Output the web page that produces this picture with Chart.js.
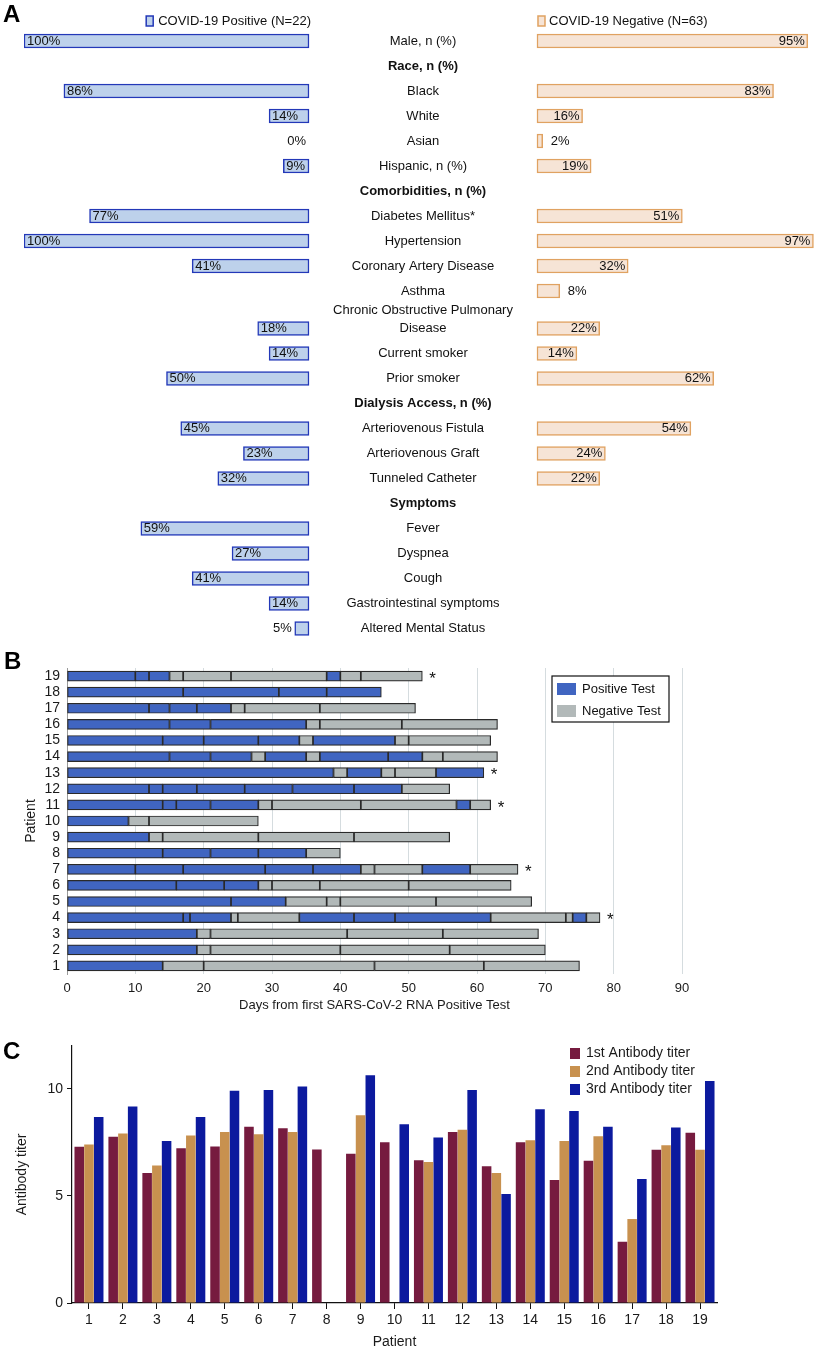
<!DOCTYPE html>
<html lang="en">
<head>
<meta charset="UTF-8">
<title>COVID-19 in hemodialysis patients</title>
<script src="https://cdn.jsdelivr.net/npm/chart.js"></script>
<style>
  body { margin: 0; background: #fff; }
  #wrap { position: relative; width: 814px; height: 1352px; }
  canvas { position: absolute; left: 0; }
  .tag { position: absolute; font: bold 24px "Liberation Sans", Arial, sans-serif; line-height: 24px; color: #000; }
</style>
</head>
<body>
<div id="wrap">
  <canvas id="chartA" width="814" height="645" style="top:0"></canvas>
  <canvas id="chartB" width="814" height="370" style="top:645px"></canvas>
  <canvas id="chartC" width="814" height="337" style="top:1015px"></canvas>
  <div class="tag" style="left:3px;top:2px">A</div>
  <div class="tag" style="left:4px;top:649px">B</div>
  <div class="tag" style="left:3px;top:1039px">C</div>
</div>
<script>
const FONT = '"Liberation Sans", Arial, sans-serif';
Chart.defaults.font.family = FONT;
Chart.defaults.color = '#1a1a1a';
Chart.defaults.animation = false;

// ---------- panel A data ----------
const rowLabels = ['Male, n (%)', 'Race, n (%)', 'Black', 'White', 'Asian', 'Hispanic, n (%)',
  'Comorbidities, n (%)', 'Diabetes Mellitus*', 'Hypertension', 'Coronary Artery Disease', 'Asthma',
  ['Chronic Obstructive Pulmonary', 'Disease'], 'Current smoker', 'Prior smoker',
  'Dialysis Access, n (%)', 'Arteriovenous Fistula', 'Arteriovenous Graft', 'Tunneled Catheter',
  'Symptoms', 'Fever', 'Dyspnea', 'Cough', 'Gastrointestinal symptoms', 'Altered Mental Status'];
const headerRows = ['Race, n (%)', 'Comorbidities, n (%)', 'Dialysis Access, n (%)', 'Symptoms'];
const positivePct = [100, null, 86, 14, 0, 9, null, 77, 100, 41, null, 18, 14, 50, null, 45, 23, 32, null, 59, 27, 41, 14, 5];
const negativePct = [95, null, 83, 16, 2, 19, null, 51, 97, 32, 8, 22, 14, 62, null, 54, 24, 22, null, null, null, null, null, null];

// ---------- panel B data (day each test segment ends, P = positive, N = negative) ----------
const patientIds = ['1','2','3','4','5','6','7','8','9','10','11','12','13','14','15','16','17','18','19'];
const testEnds = [
  [14, 20, 45, 61, 75],
  [19, 21, 40, 56, 70],
  [19, 21, 41, 55, 69],
  [17, 18, 24, 25, 34, 42, 48, 62, 73, 74, 76, 78],
  [24, 32, 38, 40, 54, 68],
  [16, 23, 28, 30, 37, 50, 65],
  [10, 17, 29, 36, 43, 45, 52, 59, 66],
  [14, 21, 28, 35, 40],
  [12, 14, 28, 42, 56],
  [9, 12, 28],
  [14, 16, 21, 28, 30, 43, 57, 59, 62],
  [12, 14, 19, 26, 33, 42, 49, 56],
  [39, 41, 46, 48, 54, 61],
  [15, 21, 27, 29, 35, 37, 47, 52, 55, 63],
  [14, 20, 28, 34, 36, 48, 50, 62],
  [15, 21, 35, 37, 49, 63],
  [12, 15, 19, 24, 26, 37, 51],
  [17, 31, 38, 46],
  [10, 12, 15, 17, 24, 38, 40, 43, 52]
];
const testResults = ['PNNNN', 'PNNNN', 'PNNNN', 'PPPNNPPPNNPN', 'PPNNNN', 'PPPNNNN', 'PPPPPNNPN',
  'PPPPN', 'PNNNN', 'PNN', 'PPPPNNNPN', 'PPPPPPPN', 'PNPNNP', 'PPPNPNPPNN', 'PPPPNPNN',
  'PPPNNN', 'PPPPNNN', 'PPPP', 'PPPNNNPNN'];
const starredPatients = ['4', '7', '11', '13', '19'];

// ---------- panel C data ----------
const titer1 = [7.29, 7.76, 6.07, 7.23, 7.31, 8.23, 8.16, 7.17, 6.97, 7.51, 6.67, 7.99, 6.39, 7.51, 5.74, 6.64, 2.86, 7.15, 7.95];
const titer2 = [7.40, 7.92, 6.42, 7.82, 7.99, 7.88, 7.98, null, 8.77, null, 6.58, 8.09, 6.07, 7.60, 7.57, 7.79, 3.92, 7.36, 7.15];
const titer3 = [8.69, 9.18, 7.57, 8.69, 9.91, 9.94, 10.11, null, 10.64, 8.35, 7.73, 9.95, 5.09, 9.05, 8.96, 8.23, 5.79, 8.20, 10.36];

// ================= A =================
const GAP = 40; // room left in the middle for the row labels (in % units)
const posFill = '#bdd1eb', posLine = '#2338b8';
const negFill = '#f6e4d6', negLine = '#e0a261';

// a two-line label pushes the rows below it down by half a row
let shift = 0;
const rowPos = rowLabels.map((lab, i) => {
  if (Array.isArray(lab)) shift += 0.5;
  return i + shift;
});

const labelsA = {
  id: 'labelsA',
  afterDatasetsDraw(chart) {
    const { ctx, scales: { x, y } } = chart;
    ctx.save();
    ctx.textBaseline = 'middle';
    ctx.fillStyle = '#111';
    rowLabels.forEach((lab, i) => {
      const yc = y.getPixelForValue(rowPos[i]);
      ctx.font = (headerRows.includes(lab) ? 'bold ' : '') + '13px ' + FONT;
      ctx.textAlign = 'center';
      const lines = Array.isArray(lab) ? lab : [lab];
      lines.forEach((t, k) => ctx.fillText(t, x.getPixelForValue(0), yc - (lines.length - 1 - k) * 18));

      ctx.font = '13px ' + FONT;
      const p = positivePct[i];
      if (p !== null) {
        const x0 = x.getPixelForValue(-GAP - p), x1 = x.getPixelForValue(-GAP);
        const w = ctx.measureText(p + '%').width;
        if (w + 6 <= x1 - x0) { ctx.textAlign = 'left'; ctx.fillText(p + '%', x0 + 3, yc); }
        else { ctx.textAlign = 'right'; ctx.fillText(p + '%', x0 - 3, yc); }
      }
      const n = negativePct[i];
      if (n !== null) {
        const x0 = x.getPixelForValue(GAP), x1 = x.getPixelForValue(GAP + n);
        const w = ctx.measureText(n + '%').width;
        if (w + 6 <= x1 - x0) { ctx.textAlign = 'right'; ctx.fillText(n + '%', x1 - 3, yc); }
        else { ctx.textAlign = 'left'; ctx.fillText(n + '%', x1 + 8, yc); }
      }
    });

    // legend above the two bar columns
    const ly = 21;
    ctx.font = '13px ' + FONT;
    const d = chart.data.datasets;
    const lx = x.getPixelForValue(-GAP) + 2;
    const lw = ctx.measureText(d[0].label).width;
    ctx.textAlign = 'right';
    ctx.fillText(d[0].label, lx, ly);
    ctx.lineWidth = 1.5;
    ctx.fillStyle = d[0].backgroundColor; ctx.strokeStyle = d[0].borderColor;
    ctx.fillRect(lx - lw - 12, ly - 5, 7, 10); ctx.strokeRect(lx - lw - 12, ly - 5, 7, 10);
    const rx = x.getPixelForValue(GAP) + 1;
    ctx.fillStyle = d[1].backgroundColor; ctx.strokeStyle = d[1].borderColor;
    ctx.fillRect(rx, ly - 5, 7, 10); ctx.strokeRect(rx, ly - 5, 7, 10);
    ctx.fillStyle = '#111';
    ctx.textAlign = 'left';
    ctx.fillText(d[1].label, rx + 11, ly);
    ctx.restore();
  }
};

new Chart(document.getElementById('chartA'), {
  type: 'bar',
  data: {
    datasets: [
      {
        label: 'COVID-19 Positive (N=22)',
        data: positivePct.map((v, i) => ({ x: [-GAP - v, -GAP], y: rowPos[i] })).filter((d, i) => positivePct[i]),
        backgroundColor: posFill, borderColor: posLine
      },
      {
        label: 'COVID-19 Negative (N=63)',
        data: negativePct.map((v, i) => ({ x: [GAP, GAP + v], y: rowPos[i] })).filter((d, i) => negativePct[i]),
        backgroundColor: negFill, borderColor: negLine
      }
    ]
  },
  options: {
    indexAxis: 'y',
    responsive: false,
    layout: { padding: { top: 28.5, bottom: 4, left: 24, right: 0 } },
    datasets: { bar: { grouped: false, barThickness: 14, borderWidth: 1.5, borderSkipped: false } },
    plugins: { legend: { display: false }, tooltip: { enabled: false } },
    scales: {
      x: { type: 'linear', min: -140, max: 137.2, display: false },
      y: { type: 'linear', reverse: true, offset: false, min: -0.5, max: rowPos[rowPos.length - 1] + 0.5, display: false }
    }
  },
  plugins: [labelsA]
});

// ================= B =================
const posBlue = '#4065c1', negGray = '#b2b9b9';
const maxSeg = Math.max(...testEnds.map(e => e.length));
const segSets = [];
for (let k = 0; k < maxSeg; k++) {
  segSets.push({
    data: testEnds.map(e => e[k] !== undefined ? [k ? e[k - 1] : 0, e[k]] : null),
    backgroundColor: testResults.map(r => r[k] === 'P' ? posBlue : negGray)
  });
}

const extrasB = {
  id: 'extrasB',
  afterDatasetsDraw(chart) {
    const { ctx, chartArea, scales: { x, y } } = chart;
    ctx.save();
    // asterisks after the last test
    ctx.fillStyle = '#111';
    ctx.font = '17px ' + FONT;
    ctx.textAlign = 'left';
    ctx.textBaseline = 'middle';
    starredPatients.forEach(p => {
      const i = patientIds.indexOf(p);
      const e = testEnds[i];
      ctx.fillText('*', x.getPixelForValue(e[e.length - 1]) + 7, y.getPixelForValue(i) + 3);
    });
    // legend box
    const bx = chartArea.right - 130, by = chartArea.top + 8;
    ctx.fillStyle = '#fff';
    ctx.fillRect(bx, by, 117, 46);
    ctx.strokeStyle = '#111';
    ctx.lineWidth = 1.2;
    ctx.strokeRect(bx, by, 117, 46);
    [['Positive Test', posBlue], ['Negative Test', negGray]].forEach(([t, c], j) => {
      ctx.fillStyle = c;
      ctx.fillRect(bx + 5, by + 7 + j * 22, 19, 12);
      ctx.fillStyle = '#111';
      ctx.font = '13px ' + FONT;
      ctx.fillText(t, bx + 30, by + 13 + j * 22);
    });
    ctx.restore();
  }
};

new Chart(document.getElementById('chartB'), {
  type: 'bar',
  data: { labels: patientIds, datasets: segSets },
  options: {
    indexAxis: 'y',
    responsive: false,
    layout: { padding: { top: 23, bottom: 0, left: 0, right: 132 } },
    datasets: { bar: { grouped: false, barThickness: 10, borderWidth: 1.2, borderColor: '#2a2a2a', borderSkipped: false } },
    plugins: { legend: { display: false }, tooltip: { enabled: false } },
    scales: {
      x: {
        type: 'linear', min: 0, max: 90,
        ticks: { stepSize: 10, padding: 7, font: { size: 13 }, color: '#1a1a1a' },
        grid: { color: '#d5dcdf', drawTicks: false },
        border: { display: false },
        title: { display: true, text: 'Days from first SARS-CoV-2 RNA Positive Test', font: { size: 13 }, color: '#1a1a1a', padding: { top: 0, bottom: 2 } },
        afterFit: s => { s.height = 41; }
      },
      y: {
        reverse: true,
        ticks: { autoSkip: false, padding: 7, font: { size: 14 }, color: '#1a1a1a' },
        grid: { display: false, drawTicks: false },
        border: { display: true, color: '#9a9a9a', width: 1 },
        title: { display: true, text: 'Patient', font: { size: 14 }, color: '#1a1a1a', padding: { top: 23, bottom: 0 } },
        afterFit: s => { s.width = 67; }
      }
    }
  },
  plugins: [extrasB]
});

// ================= C =================
const titerColors = ['#761b3f', '#c8914f', '#0c1a9e'];
const titerNames = ['1st Antibody titer', '2nd Antibody titer', '3rd Antibody titer'];

const legendC = {
  id: 'legendC',
  afterDraw(chart) {
    const { ctx, chartArea } = chart;
    ctx.save();
    ctx.font = '14px ' + FONT;
    ctx.textBaseline = 'middle';
    ctx.textAlign = 'left';
    titerNames.forEach((t, j) => {
      const yy = chartArea.top + 7 + j * 18;
      ctx.fillStyle = titerColors[j];
      ctx.fillRect(chartArea.right - 147, yy - 5, 10, 11);
      ctx.fillStyle = '#1a1a1a';
      ctx.fillText(t, chartArea.right - 131, yy);
    });
    ctx.restore();
  }
};

new Chart(document.getElementById('chartC'), {
  type: 'bar',
  data: {
    labels: patientIds,
    datasets: [
      { label: titerNames[0], data: titer1, backgroundColor: titerColors[0] },
      { label: titerNames[1], data: titer2, backgroundColor: titerColors[1] },
      { label: titerNames[2], data: titer3, backgroundColor: titerColors[2] }
    ]
  },
  options: {
    responsive: false,
    layout: { padding: { top: 31, bottom: 0, left: 0, right: 97 } },
    datasets: { bar: { categoryPercentage: 0.86, barPercentage: 0.98 } },
    plugins: { legend: { display: false }, tooltip: { enabled: false } },
    scales: {
      x: {
        ticks: { padding: 3, font: { size: 14 }, color: '#1a1a1a' },
        grid: { offset: false, drawOnChartArea: false, tickLength: 6, color: '#111' },
        border: { color: '#111', width: 1.2 },
        title: { display: true, text: 'Patient', font: { size: 14 }, color: '#1a1a1a', padding: { top: 0, bottom: 1 } },
        afterFit: s => { s.height = 49; }
      },
      y: {
        min: 0, max: 12,
        ticks: { stepSize: 5, includeBounds: false, padding: 4, font: { size: 14 }, color: '#1a1a1a' },
        grid: { drawOnChartArea: false, tickLength: 5, color: '#111' },
        border: { color: '#111', width: 1.2 },
        title: { display: true, text: 'Antibody titer', font: { size: 14 }, color: '#1a1a1a', padding: { top: 14, bottom: 0 } },
        afterFit: s => { s.width = 72; }
      }
    }
  },
  plugins: [legendC]
});
</script>
</body>
</html>
